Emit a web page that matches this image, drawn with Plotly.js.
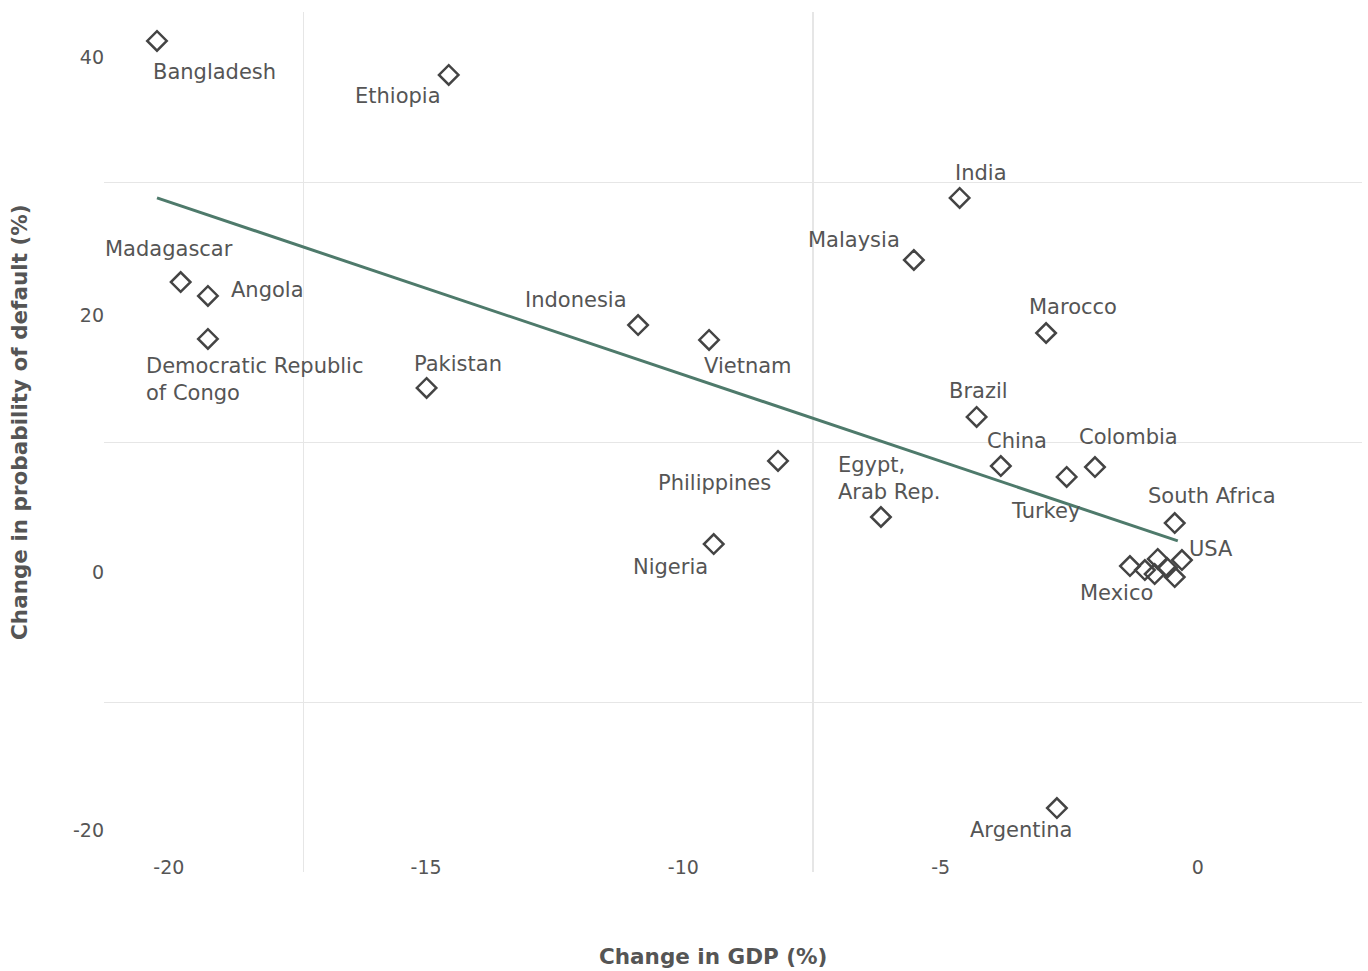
<!DOCTYPE html>
<html>
<head>
<meta charset="utf-8">
<script src="https://cdn.plot.ly/plotly-3.0.1.min.js"></script>
<style>
  html, body { margin: 0; padding: 0; background: #ffffff; }
  #chart { width: 1368px; height: 971px; }
</style>
</head>
<body>
<div id="chart"></div>
<script>
// ---- Data ----
const countries = [
  'Bangladesh', 'Ethiopia', 'India', 'Malaysia', 'Madagascar', 'Angola',
  'Democratic Republic<br>of Congo', 'Indonesia', 'Vietnam', 'Marocco', 'Pakistan',
  'Brazil', 'China', 'Colombia', 'Turkey', 'Philippines', 'Egypt,<br>Arab Rep.',
  'South Africa', 'Nigeria', 'USA', 'Mexico', 'Argentina',
  '', '', '', '', ''
];
const gdpChange = [
  -20.23, -14.56, -4.63, -5.52, -19.77, -19.24,
  -19.24, -10.88, -9.50, -2.95, -14.99,
  -4.30, -3.83, -2.00, -2.55, -8.16, -6.16,
  -0.45, -9.41, -0.31, -1.32, -2.74,
  -1.03, -0.78, -0.84, -0.60, -0.45
];
const defaultChange = [
  41.28, 38.64, 29.09, 24.27, 22.56, 21.48,
  18.14, 19.22, 18.06, 18.60, 14.33,
  12.08, 8.27, 8.19, 7.42, 8.66, 4.31,
  3.84, 2.21, 0.97, 0.50, -18.29,
  0.19, 1.05, -0.12, 0.35, -0.35
];
// fitted trend line (endpoints)
const trendGdp = [-20.23, -0.39];
const trendDefault = [29.1, 2.45];

// axis ticks
const xTickVals = [-20, -15, -10, -5, 0];
const xTickText = ['-20', '-15', '-10', '-5', '0'];
const yTickVals = [-20, 0, 20, 40];
const yTickText = ['-20', '0', '20', '40'];
// grid line positions (as drawn in the reference)
const xGridVals = [-17.38, -7.48];
const yGridVals = [-10.1, 10.1, 30.3];

// ---- Label placement (pixel offsets from the marker; not data) ----
const labelPlacement = {
  'Bangladesh': {dx: 57, dy: 31},
  'Ethiopia': {dx: -51, dy: 21},
  'India': {dx: 21, dy: -25},
  'Malaysia': {dx: -60, dy: -20},
  'Madagascar': {dx: -12, dy: -33},
  'Angola': {dx: 60, dy: -6},
  'Democratic Republic<br>of Congo': {dx: -64, dy: 41, left: true},
  'Indonesia': {dx: -62, dy: -25},
  'Vietnam': {dx: 39, dy: 26},
  'Marocco': {dx: 27, dy: -26},
  'Pakistan': {dx: 31, dy: -24},
  'Brazil': {dx: 2, dy: -26},
  'China': {dx: 16, dy: -25},
  'Colombia': {dx: 34, dy: -30},
  'Turkey': {dx: -21, dy: 34},
  'Philippines': {dx: -64, dy: 22},
  'Egypt,<br>Arab Rep.': {dx: -45, dy: -39, left: true},
  'South Africa': {dx: 37, dy: -27},
  'Nigeria': {dx: -43, dy: 23},
  'USA': {dx: 29, dy: -11},
  'Mexico': {dx: -13, dy: 27},
  'Argentina': {dx: -36, dy: 22}
};

const FONT = '"DejaVu Sans", sans-serif';
const TEXT_COLOR = '#555555';

const annotations = [];
countries.forEach(function (name, i) {
  if (!name) return;
  const p = labelPlacement[name] || {dx: 0, dy: -25};
  annotations.push({
    x: gdpChange[i], y: defaultChange[i], xref: 'x', yref: 'y',
    text: name, showarrow: false,
    xanchor: p.left ? 'left' : 'center', yanchor: 'middle',
    align: p.left ? 'left' : 'center',
    xshift: p.dx, yshift: -p.dy,
    font: {family: FONT, size: 21, color: TEXT_COLOR}
  });
});

// axis titles
annotations.push({
  xref: 'paper', yref: 'paper', x: 0.4841, y: -0.0988,
  xanchor: 'center', yanchor: 'middle', showarrow: false,
  text: 'Change in GDP (%)',
  font: {family: FONT, size: 21.5, color: TEXT_COLOR, weight: 700}
});
annotations.push({
  xref: 'paper', yref: 'paper', x: -0.0668, y: 0.5233,
  xanchor: 'center', yanchor: 'middle', showarrow: false, textangle: -90,
  text: 'Change in probability of default (%)',
  font: {family: FONT, size: 21.5, color: TEXT_COLOR, weight: 700}
});

const traces = [
  {
    type: 'scatter', mode: 'lines',
    x: trendGdp, y: trendDefault,
    line: {color: '#4e7a6b', width: 3},
    hoverinfo: 'skip'
  },
  {
    type: 'scatter', mode: 'markers',
    x: gdpChange, y: defaultChange,
    text: countries,
    marker: {
      symbol: 'diamond-open', size: 15,
      color: '#444444',
      line: {color: '#444444', width: 2.5}
    }
  }
];

const gridStyle = {showgrid: true, gridcolor: '#e6e6e6', gridwidth: 1.3, ticks: ''};

const layout = {
  width: 1368, height: 971,
  margin: {l: 104, r: 6, t: 12, b: 99},
  paper_bgcolor: '#ffffff', plot_bgcolor: '#ffffff',
  showlegend: false,
  hovermode: false,
  font: {family: FONT, size: 19, color: TEXT_COLOR},
  xaxis: {
    range: [-21.26, 3.19],
    tickmode: 'array', tickvals: xTickVals, ticktext: xTickText,
    showgrid: false, zeroline: false, showline: false, ticks: '',
    tickfont: {family: FONT, size: 19, color: TEXT_COLOR},
    ticklabelstandoff: -18,
    automargin: false,
    minor: Object.assign({tickmode: 'array', tickvals: xGridVals}, gridStyle)
  },
  yaxis: {
    range: [-23.26, 43.53],
    tickmode: 'array', tickvals: yTickVals, ticktext: yTickText,
    showgrid: false, zeroline: false, showline: false, ticks: '',
    tickfont: {family: FONT, size: 19, color: TEXT_COLOR},
    ticklabelstandoff: -1,
    automargin: false,
    minor: Object.assign({tickmode: 'array', tickvals: yGridVals}, gridStyle)
  },
  annotations: annotations
};

Plotly.newPlot('chart', traces, layout, {staticPlot: true, displayModeBar: false});
</script>
</body>
</html>
